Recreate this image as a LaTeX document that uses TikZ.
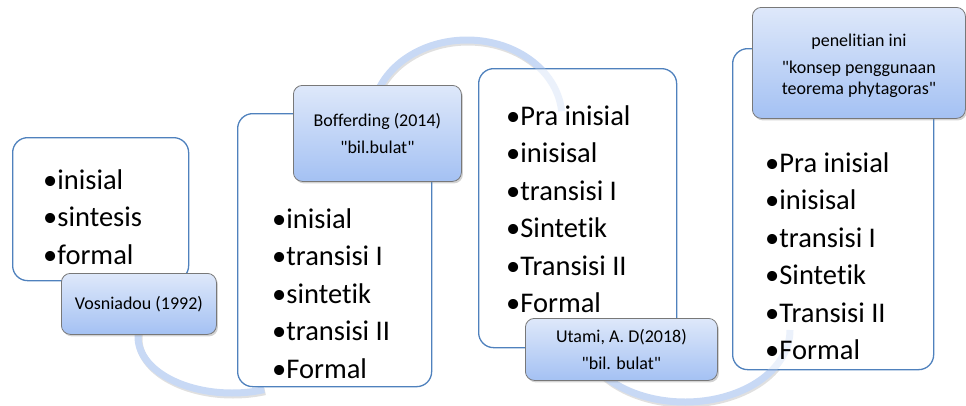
\documentclass[tikz,border=0pt]{standalone}
\usepackage{fontspec}
\setmainfont{Carlito}[Ligatures={TeXOff,CommonOff}]
\usetikzlibrary{shadows}
\definecolor{boxblue}{RGB}{79,129,189}
\definecolor{tabtop}{RGB}{222,232,250}
\definecolor{tabbot}{RGB}{164,193,243}
\definecolor{tabline}{RGB}{120,120,120}
\definecolor{arcblue}{RGB}{200,217,245}
\newcommand\myitemfont{\fontsize{28.5}{34}\selectfont}
\newcommand\mytabfont{\fontsize{18}{21}\selectfont}
\begin{document}
\begin{tikzpicture}[x=1pt,y=-1pt,
  panel/.style={draw=boxblue, line width=1.3pt, fill=white, rounded corners=15pt, inner sep=0pt, anchor=north west},
  tabbox/.style={draw=tabline, line width=0.8pt, top color=tabtop, bottom color=tabbot, rounded corners=9pt,
     drop shadow={shadow xshift=1.5pt, shadow yshift=-2pt, opacity=.35}, font=\mytabfont, align=center, inner sep=0pt, anchor=north west},
  tabtext/.style={font=\mytabfont, align=center, inner sep=0pt},
  item/.style={anchor=base west, inner sep=0pt, font=\myitemfont},
  bendline/.style={line width=7pt, draw=arcblue},
  bendshadow/.style={line width=7pt, draw=black, opacity=.12}
]
\useasboundingbox (0,0) rectangle (966,405);

% bending connectors (behind the panels)
\draw[bendshadow] plot[smooth, domain=190:70, samples=40] ({233+94*cos(\x)},{339+56*sin(\x)});
\draw[bendline] plot[smooth, domain=190:70, samples=40] ({232+94*cos(\x)},{337+56*sin(\x)});
\draw[bendshadow] plot[smooth, domain=165:5, samples=40] ({468+95*cos(\x)},{120-78*sin(\x)});
\draw[bendline] plot[smooth, domain=165:5, samples=40] ({467+95*cos(\x)},{118-78*sin(\x)});
\draw[bendshadow] plot[smooth, domain=140:0, samples=40] ({686+105*cos(\x)},{332+72*sin(\x)});
\draw[bendline] plot[smooth, domain=140:0, samples=40] ({685+105*cos(\x)},{330+72*sin(\x)});

% panels
\node[panel, minimum width=176pt, minimum height=143pt] (p1) at (12,137) {};
\node[panel, minimum width=194pt, minimum height=273pt] (p2) at (237,113) {};
\node[panel, minimum width=198pt, minimum height=279pt] (p3) at (478,68) {};
\node[panel, minimum width=201pt, minimum height=321pt] (p4) at (732,48) {};

% faint connector ends seen through the panels
\begin{scope}
  \clip[rounded corners=15pt] (p3.north west) rectangle (p3.south east);
  \draw[bendline, opacity=.35] plot[smooth, domain=165:5, samples=40] ({467+95*cos(\x)},{118-78*sin(\x)});
\end{scope}
\begin{scope}
  \clip[rounded corners=15pt] (p4.north west) rectangle (p4.south east);
  \draw[bendline, opacity=.35] plot[smooth, domain=140:0, samples=40] ({685+105*cos(\x)},{330+72*sin(\x)});
\end{scope}

% tabs
\node[tabbox, minimum width=155pt, minimum height=61pt] (t1) at (61,273) {Vosniadou (1992)};
\node[tabbox, minimum width=168pt, minimum height=96pt] (t2) at (293,85) {Bofferding (2014)\\[6pt]"bil.bulat"};
\node[tabbox, minimum width=192pt, minimum height=62pt] (t3) at (525,318) {Utami, A. D(2018)\\[6pt]"bil. bulat"};
\node[tabbox, minimum width=213pt, minimum height=111pt] (t4) at (752,7) {};
\node[tabtext] (t4txt) at ([yshift=-3pt]t4.center) {penelitian ini\\[6pt]"konsep penggunaan\\teorema phytagoras"};

% items
\foreach \t [count=\i] in {inisial,sintesis,formal}
  \node[item] (a\i) at (43,{189+37.5*(\i-1)}) {•\t};
\foreach \t [count=\i] in {inisial,transisi I,sintetik,transisi II,Formal}
  \node[item] (b\i) at (272,{228+37.5*(\i-1)}) {•\t};
\foreach \t [count=\i] in {Pra inisial,inisisal,transisi I,Sintetik,Transisi II,Formal}
  \node[item] (c\i) at (506,{125+37.5*(\i-1)}) {•\t};
\foreach \t [count=\i] in {Pra inisial,inisisal,transisi I,Sintetik,Transisi II,Formal}
  \node[item] (d\i) at (765,{172+37.5*(\i-1)}) {•\t};
\end{tikzpicture}
\end{document}
